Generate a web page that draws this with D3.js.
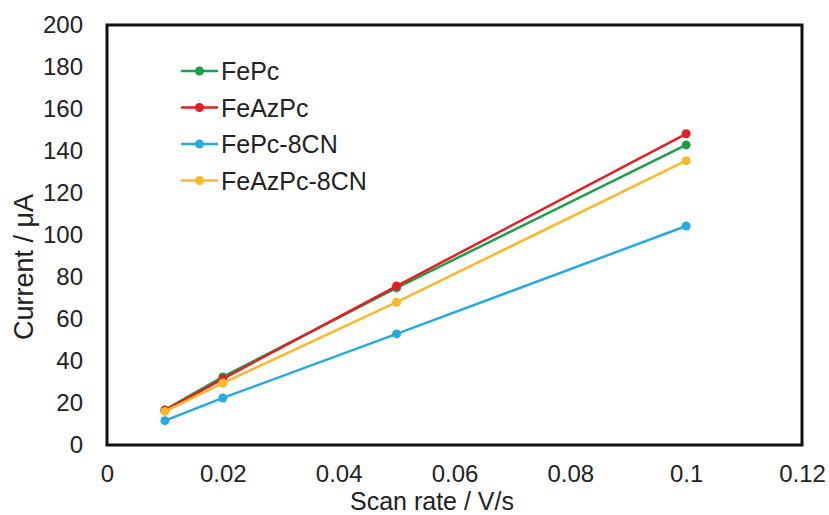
<!DOCTYPE html>
<html>
<head>
<meta charset="utf-8">
<script src="https://cdn.jsdelivr.net/npm/d3@7"></script>
<style>
  body { margin: 0; background: #fff; }
  text { font-family: "Liberation Sans", Arial, sans-serif; fill: #222; }
</style>
</head>
<body>
<div id="chart"></div>
<script>
// scan rates (V/s)
var scanRates = [0.01, 0.02, 0.05, 0.1];

// peak currents (uA)
var fePc = [16.7, 32.4, 74.8, 142.9];
var feAzPc = [16.5, 31.5, 75.7, 148.2];
var fePc8CN = [11.6, 22.4, 52.9, 104.3];
var feAzPc8CN = [16.0, 29.5, 68.0, 135.4];

var seriesNames = ["FePc", "FeAzPc", "FePc-8CN", "FeAzPc-8CN"];
var seriesColors = ["#1f9e4a", "#e41e26", "#27aae1", "#fbb829"];
var seriesValues = [fePc, feAzPc, fePc8CN, feAzPc8CN];

var xTicks = [0, 0.02, 0.04, 0.06, 0.08, 0.1, 0.12];
var yTicks = [0, 20, 40, 60, 80, 100, 120, 140, 160, 180, 200];

var w = 829;
var h = 515;
// plot box edges (note: "top" is taken by window.top)
var plotLeft = 107, plotRight = 802, plotTop = 25, plotBottom = 445;

var xScale = d3.scaleLinear()
    .domain([0, 0.12])
    .range([plotLeft, plotRight]);

var yScale = d3.scaleLinear()
    .domain([0, 200])
    .range([plotBottom, plotTop]);

var svg = d3.select("#chart")
    .append("svg")
    .attr("width", w)
    .attr("height", h);

// axes (labels only, no tick marks)
var xAxis = d3.axisBottom(xScale)
    .tickValues(xTicks)
    .tickSize(0)
    .tickPadding(20)
    .tickFormat(function(d) { return String(+d.toFixed(2)); });

var yAxis = d3.axisLeft(yScale)
    .tickValues(yTicks)
    .tickSize(0)
    .tickPadding(24);

var gx = svg.append("g")
    .attr("transform", "translate(0," + plotBottom + ")")
    .call(xAxis);
gx.select(".domain").remove();
gx.selectAll("text").style("font-size", "24px").attr("fill", "#222");

var gy = svg.append("g")
    .attr("transform", "translate(" + plotLeft + ",0)")
    .call(yAxis);
gy.select(".domain").remove();
gy.selectAll("text").style("font-size", "24px").attr("fill", "#222");

// frame
svg.append("rect")
    .attr("x", plotLeft)
    .attr("y", plotTop)
    .attr("width", plotRight - plotLeft)
    .attr("height", plotBottom - plotTop)
    .attr("fill", "none")
    .attr("stroke", "#111")
    .attr("stroke-width", 3);

// series
var line = d3.line()
    .x(function(d, i) { return xScale(scanRates[i]); })
    .y(function(d) { return yScale(d); });

seriesValues.forEach(function(vals, k) {
    svg.append("path")
        .datum(vals)
        .attr("d", line)
        .attr("fill", "none")
        .attr("stroke", seriesColors[k])
        .attr("stroke-width", 2.5);

    svg.selectAll(".pt" + k)
        .data(vals)
        .enter()
        .append("circle")
        .attr("class", "pt" + k)
        .attr("cx", function(d, i) { return xScale(scanRates[i]); })
        .attr("cy", function(d) { return yScale(d); })
        .attr("r", 4.5)
        .style("fill", seriesColors[k]);
});

// legend
var legend = svg.append("g");
seriesNames.forEach(function(name, k) {
    var ly = 71 + k * 36.5;
    legend.append("line")
        .attr("x1", 181).attr("x2", 218)
        .attr("y1", ly).attr("y2", ly)
        .attr("stroke", seriesColors[k])
        .attr("stroke-width", 2.5);
    legend.append("circle")
        .attr("cx", 199.5).attr("cy", ly)
        .attr("r", 4.5)
        .style("fill", seriesColors[k]);
    legend.append("text")
        .attr("x", 221)
        .attr("y", ly + 9)
        .style("font-size", "25px")
        .text(name);
});

// x-axis label
svg.append("text")
    .attr("text-anchor", "middle")
    .attr("x", 432)
    .attr("y", 510)
    .style("font-size", "25px")
    .text("Scan rate / V/s");

// y-axis label
svg.append("text")
    .attr("text-anchor", "middle")
    .attr("transform", "translate(33,267) rotate(-90)")
    .style("font-size", "27px")
    .text("Current / μA");
</script>
</body>
</html>
